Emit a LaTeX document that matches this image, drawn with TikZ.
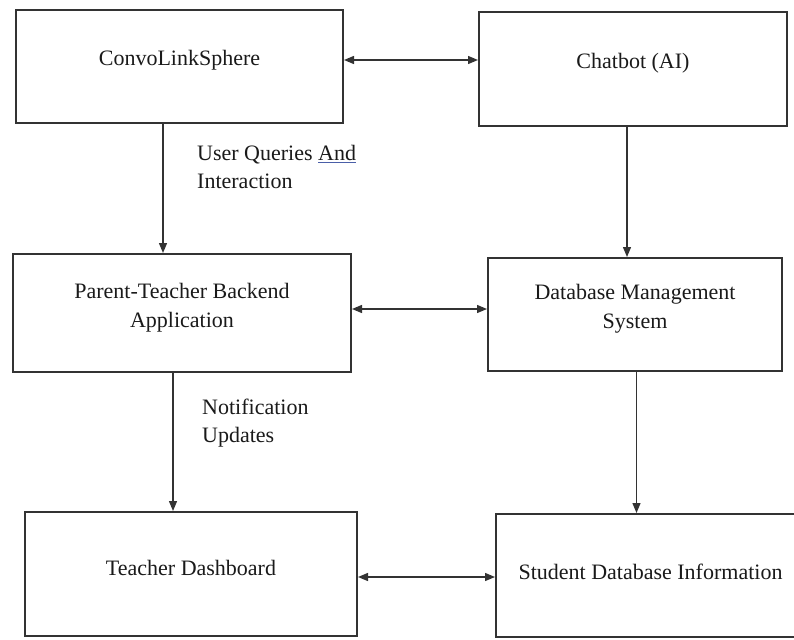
\documentclass[tikz,border=0pt]{standalone}
\usepackage{fontspec}
\setmainfont{Liberation Serif}
\usetikzlibrary{arrows.meta}
\definecolor{boxline}{HTML}{333333}
\definecolor{txt}{HTML}{1A1A1A}
\definecolor{ulblue}{HTML}{4A5FA8}
\newcommand\myblueul[1]{\setbox0\hbox{#1}\rlap{\color{ulblue}\rule[-2.5pt]{\wd0}{1.2pt}}#1}
\tikzset{
  box/.style={draw=boxline, line width=2pt, rectangle, inner sep=0pt},
  boxtext/.style={font=\fontsize{22}{29}\selectfont, text=txt, align=center},
  edgetext/.style={font=\fontsize{22}{28}\selectfont, text=txt, align=left, inner sep=0pt, anchor=west},
  conn/.style={draw=boxline, line width=1.3pt, -{Triangle[length=10pt,width=8pt]}},
  biconn/.style={draw=boxline, line width=1.3pt, {Triangle[length=10pt,width=8pt]}-{Triangle[length=10pt,width=8pt]}}
}
\begin{document}
\begin{tikzpicture}[x=1pt,y=-1pt]
\useasboundingbox (0,0) rectangle (794,639);
\fill[white] (0,0) rectangle (794,639);
\node[box, minimum width=327pt, minimum height=113pt,
  label={[boxtext, yshift=6.5pt]center:ConvoLinkSphere}] (conv) at (179.5,66.5) {};
\node[box, minimum width=308pt, minimum height=114pt,
  label={[boxtext, yshift=6pt]center:Chatbot (AI)}] (chat) at (633,69) {};
\node[box, minimum width=338pt, minimum height=118pt,
  label={[boxtext, yshift=5.5pt]center:Parent-Teacher Backend\\Application}] (back) at (182,313) {};
\node[box, minimum width=294pt, minimum height=113pt,
  label={[boxtext, yshift=5.5pt]center:Database Management\\System}] (db) at (635,314.5) {};
\node[box, minimum width=332pt, minimum height=124pt,
  label={[boxtext, yshift=6pt]center:Teacher Dashboard}] (teach) at (191,574) {};
\node[box, minimum width=309pt, minimum height=123pt,
  label={[boxtext, yshift=3.5pt]center:Student Database Information}] (stud) at (650.5,575.5) {};
% edge labels
\node[edgetext] (lq) at (197,167) {User Queries \myblueul{And}\\Interaction};
\node[edgetext] (ln) at (202,423) {Notification\\Updates};
% connectors
\draw[biconn] ([yshift=6.5pt]conv.east) -- ([yshift=6.5pt]conv.east -| chat.west);
\draw[conn] ([xshift=-16.5pt]conv.south) -- ([xshift=-16.5pt]conv.south |- back.north);
\draw[conn] ([xshift=-6pt]chat.south) -- ([xshift=-6pt]chat.south |- db.north);
\draw[biconn] ([yshift=4pt]back.east) -- ([yshift=4pt]back.east -| db.west);
\draw[conn] ([xshift=-9pt]back.south) -- ([xshift=-9pt]back.south |- teach.north);
\draw[conn] ([xshift=1.5pt]db.south) -- ([xshift=1.5pt]db.south |- stud.north);
\draw[biconn] ([yshift=-3pt]teach.east) -- ([yshift=-3pt]teach.east -| stud.west);
\end{tikzpicture}
\end{document}
